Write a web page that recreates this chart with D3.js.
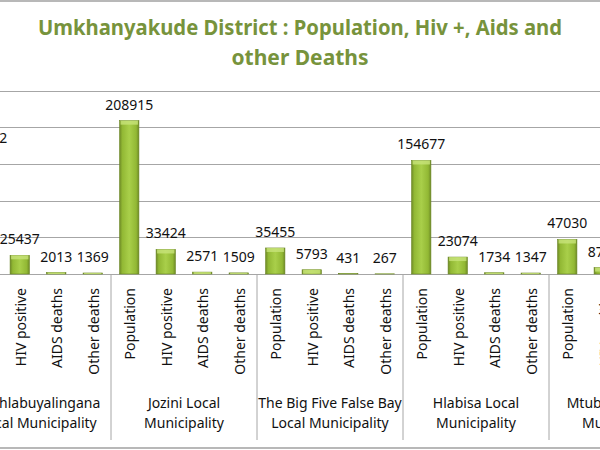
<!DOCTYPE html>
<html>
<head>
<meta charset="utf-8">
<script src="https://cdn.jsdelivr.net/npm/d3@7"></script>
<style>
  body { margin: 0; background: #fff; }
  svg { display: block; font-family: "Noto Sans", "Open Sans", sans-serif; }
</style>
</head>
<body>
<div id="chart"></div>
<script>
// data
const municipalities = ["Umhlabuyalingana", "Jozini", "The Big Five False Bay", "Hlabisa", "Mtubatuba"];
const groupLabels = [
  ["Umhlabuyalingana", "Local Municipality"],
  ["Jozini Local", "Municipality"],
  ["The Big Five False Bay", "Local Municipality"],
  ["Hlabisa Local", "Municipality"],
  ["Mtubatuba Local", "Municipality"]
];
const indicators = ["Population", "HIV positive", "AIDS deaths", "Other deaths"];
const population = [163752, 208915, 35455, 154677, 47030];
const hivPositive = [25437, 33424, 5793, 23074, 8749];
const aidsDeaths = [2013, 2571, 431, 1734, 702];
const otherDeaths = [1369, 1509, 267, 1347, 598];
const yTicks = [0, 50000, 100000, 150000, 200000, 250000];

const width = 600, height = 450;
const titleColor = "#77933c";

// flatten into one row per bar
const series = [population, hivPositive, aidsDeaths, otherDeaths];
const rows = [];
municipalities.forEach((m, gi) => {
  indicators.forEach((ind, ci) => {
    rows.push({ key: gi + "-" + ci, group: gi, name: ind, value: series[ci][gi] });
  });
});

const svg = d3.select("#chart").append("svg")
  .attr("width", width)
  .attr("height", height);

// the chart is cropped on both sides, so the band range spills past the frame
const x = d3.scaleBand()
  .domain(rows.map(d => d.key))
  .range([-35, 695])
  .paddingInner(0.47)
  .paddingOuter(0.235);

const y = d3.scaleLinear()
  .domain([0, 250000])
  .range([274, 90.5]);

const groupStep = x.step() * indicators.length;
const groupStart = gi => -35 + gi * groupStep;

// gradient for the bevelled bars
const defs = svg.append("defs");
const grad = defs.append("linearGradient").attr("id", "barGrad")
  .attr("x1", "0%").attr("x2", "100%").attr("y1", "0%").attr("y2", "0%");
[["0%", "#6e8a26"], ["14%", "#92b834"], ["50%", "#a9cf4a"], ["86%", "#92b834"], ["100%", "#6e8a26"]]
  .forEach(s => grad.append("stop").attr("offset", s[0]).attr("stop-color", s[1]));

// frame lines
svg.append("line").attr("x1", 0).attr("x2", width).attr("y1", 1).attr("y2", 1)
  .attr("stroke", "#a0a0a0").attr("stroke-width", 1.5);
svg.append("line").attr("x1", 0).attr("x2", width).attr("y1", 448).attr("y2", 448)
  .attr("stroke", "#a0a0a0").attr("stroke-width", 1.5);

// title
const title = svg.append("text")
  .attr("text-anchor", "middle")
  .attr("fill", titleColor)
  .attr("font-weight", "bold")
  .attr("font-size", 21);
title.append("tspan").attr("x", 300).attr("y", 35)
  .attr("textLength", 524).attr("lengthAdjust", "spacingAndGlyphs")
  .text("Umkhanyakude District : Population, Hiv +, Aids and");
title.append("tspan").attr("x", 300).attr("y", 65)
  .text("other Deaths");

// gridlines
svg.append("g").selectAll("line")
  .data(yTicks)
  .join("line")
  .attr("x1", 0).attr("x2", width)
  .attr("y1", d => Math.round(y(d)) + 0.5).attr("y2", d => Math.round(y(d)) + 0.5)
  .attr("stroke", "#a6a6a6");

// group separators under the axis
svg.append("g").selectAll("line")
  .data(d3.range(municipalities.length + 1))
  .join("line")
  .attr("x1", d => groupStart(d)).attr("x2", d => groupStart(d))
  .attr("y1", y(0)).attr("y2", 440)
  .attr("stroke", "#a6a6a6");

// bars
const bars = svg.append("g").selectAll("g")
  .data(rows)
  .join("g");
bars.append("rect")
  .attr("x", d => x(d.key))
  .attr("y", d => y(d.value))
  .attr("width", x.bandwidth())
  .attr("height", d => y(0) - y(d.value))
  .attr("fill", "url(#barGrad)")
  .attr("stroke", "#6a8624")
  .attr("stroke-width", 0.6);
bars.append("rect")
  .attr("x", d => x(d.key) + 1)
  .attr("y", d => y(d.value))
  .attr("width", x.bandwidth() - 2)
  .attr("height", d => Math.min(4, y(0) - y(d.value)))
  .attr("fill", "#c8e47a")
  .attr("opacity", 0.8);

// value labels
svg.append("g").selectAll("text")
  .data(rows)
  .join("text")
  .attr("x", d => x(d.key) + x.bandwidth() / 2)
  .attr("y", d => y(d.value) - 11)
  .attr("text-anchor", "middle")
  .attr("font-size", 14)
  .attr("fill", "#111")
  .text(d => d.value);

// category labels, rotated
svg.append("g").selectAll("text")
  .data(rows)
  .join("text")
  .attr("transform", d => `translate(${x(d.key) + x.bandwidth() / 2 + 1},288) rotate(-90)`)
  .attr("dy", "0.35em")
  .attr("text-anchor", "end")
  .attr("font-size", 14)
  .attr("fill", "#111")
  .text(d => d.name);

// municipality labels
const gl = svg.append("g").selectAll("text")
  .data(groupLabels)
  .join("text")
  .attr("text-anchor", "middle")
  .attr("font-size", 14)
  .attr("fill", "#111");
gl.selectAll("tspan")
  .data((d, i) => d.map(t => ({ t, i })))
  .join("tspan")
  .attr("x", d => groupStart(d.i) + groupStep / 2)
  .attr("y", (d, j) => 408 + j * 20)
  .text(d => d.t);
</script>
</body>
</html>
